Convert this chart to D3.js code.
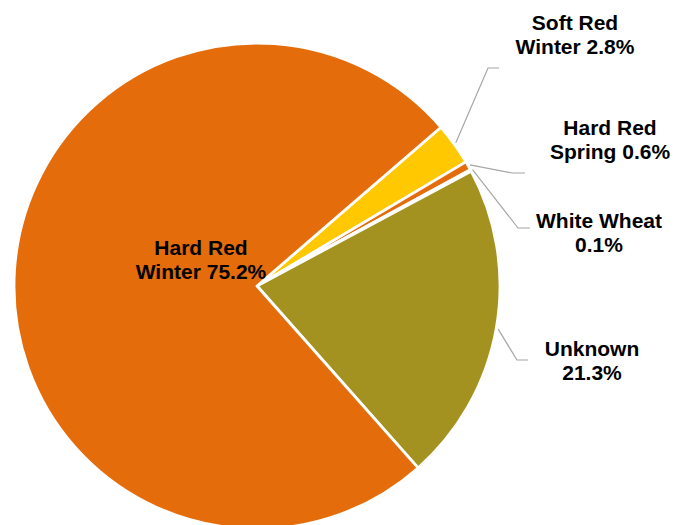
<!DOCTYPE html>
<html><head><meta charset="utf-8">
<script src="https://cdn.jsdelivr.net/npm/d3@7"></script>
<style>html,body{margin:0;padding:0;background:#fff;}svg{display:block;}</style>
</head><body>
<svg id="chart" width="688" height="525"></svg>
<script>
const categories = ["Soft Red Winter", "Hard Red Spring", "White Wheat", "Unknown", "Hard Red Winter"];
const shares = [2.8, 0.6, 0.1, 21.3, 75.2];
const labelLines = [["Soft Red", "Winter 2.8%"], ["Hard Red", "Spring 0.6%"], ["White Wheat", "0.1%"], ["Unknown", "21.3%"], ["Hard Red", "Winter 75.2%"]];
const colors = ["#FFC800", "#E46C0A", "#F2F2F2", "#A3921F", "#E46C0A"];

// layout (label anchor centre x, first baseline y, leader elbow x,y, leader end x)
const layout = [
  {lx: 575, ly: 30, ex: 488, ey: 68, endx: 499},
  {lx: 610, ly: 135, ex: 512, ey: 173, endx: 525},
  {lx: 599, ly: 228, ex: 518, ey: 228, endx: 530},
  {lx: 592, ly: 356, ex: 517, ey: 360, endx: 528},
  {lx: 201, ly: 255, ex: null}
];

const cx = 257, cy = 286, R = 243;
const svg = d3.select("#chart");
const g = svg.append("g").attr("transform", `translate(${cx},${cy})`);

const startDeg = 49.2;
const pie = d3.pie().sort(null).value(d => d)
  .startAngle(startDeg * Math.PI / 180)
  .endAngle((startDeg + 360) * Math.PI / 180);
const arcs = pie(shares);
const arc = d3.arc().innerRadius(0).outerRadius(R);

g.selectAll("path.slice").data(arcs).enter().append("path")
  .attr("class", "slice")
  .attr("d", arc)
  .attr("fill", (d, i) => colors[i])
  .attr("stroke", "#fff")
  .attr("stroke-width", 2.8)
  .attr("stroke-linejoin", "round");

// leader lines
const outer = d3.arc().innerRadius(R + 2).outerRadius(R + 2);
arcs.forEach((d, i) => {
  const L = layout[i];
  if (L.ex == null) return;
  const p = outer.centroid(d);
  const pts = [[p[0] + cx, p[1] + cy], [L.ex, L.ey], [L.endx, L.ey]];
  svg.append("path")
    .attr("d", d3.line()(pts))
    .attr("fill", "none")
    .attr("stroke", "#A6A6A6")
    .attr("stroke-width", 1.2);
});

// labels
arcs.forEach((d, i) => {
  const L = layout[i];
  const t = svg.append("text")
    .attr("x", L.lx).attr("y", L.ly)
    .attr("text-anchor", "middle")
    .attr("font-family", "'Liberation Sans', Arial, sans-serif")
    .attr("font-weight", "bold")
    .attr("font-size", 21)
    .attr("fill", "#000");
  labelLines[i].forEach((s, k) => {
    t.append("tspan").attr("x", L.lx).attr("dy", k === 0 ? 0 : 24).text(s);
  });
});
</script>
</body></html>
